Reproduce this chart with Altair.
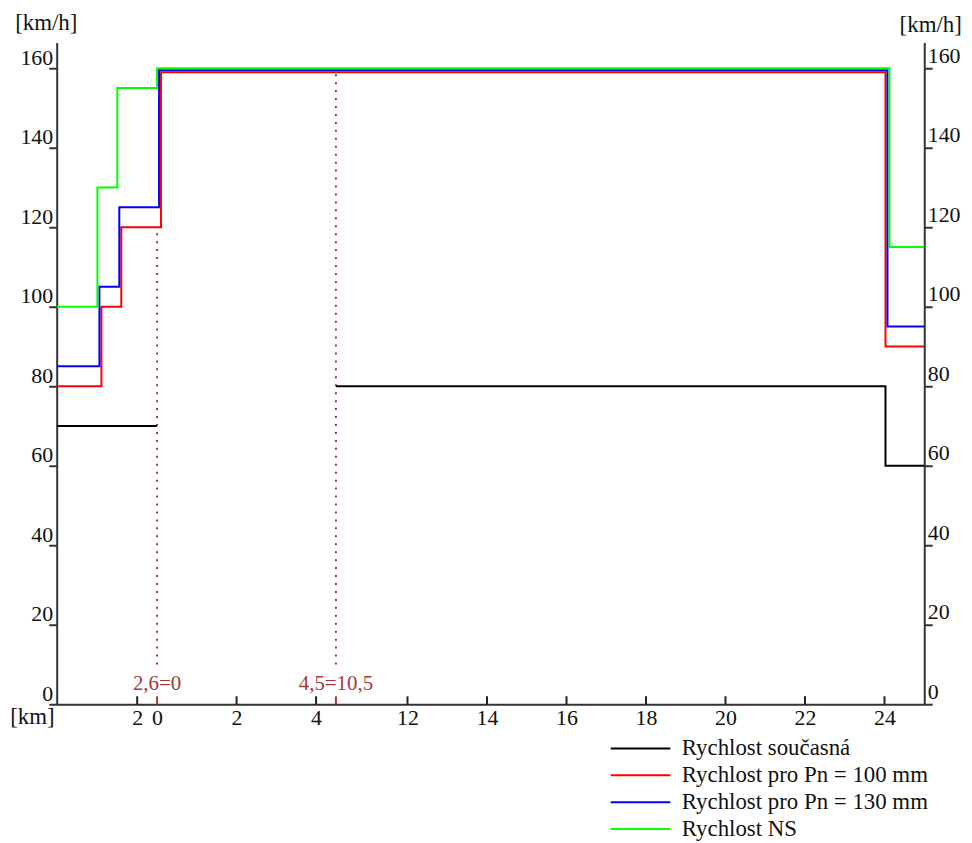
import altair as alt
import pandas as pd

# ---- data (positions along the broken chainage axis, km-equivalent units) ----
x_start = -2.525
x_end = 19.3

series = ["Rychlost současná", "Rychlost pro Pn = 100 mm",
          "Rychlost pro Pn = 130 mm", "Rychlost NS"]
colors = ["#000000", "#ff0000", "#0000ff", "#00ff00"]

cur_x1 = [-2.525, 0.0]
cur_v1 = [70, 70]
cur_x2 = [4.5, 18.325, 19.3]
cur_v2 = [80, 60, 60]

pn100_x = [-2.525, -1.4, -0.9, 0.1, 18.325, 19.3]
pn100_v = [80, 100, 120, 159, 90, 90]

pn130_x = [-2.525, -1.45, -0.95, 0.05, 18.375, 19.3]
pn130_v = [85, 105, 125, 159.5, 95, 95]

ns_x = [-2.525, -1.5, -1.0, 0.0, 18.425, 19.3]
ns_v = [100, 130, 155, 160, 115, 115]

tick_pos = [-0.5, 0, 2, 4, 6.3, 8.3, 10.3, 12.3, 14.3, 16.3, 18.3]
tick_labels = ["2", "0", "2", "4", "12", "14", "16", "18", "20", "22", "24"]
y_ticks = [0, 20, 40, 60, 80, 100, 120, 140, 160]

break_pos = [0.0, 4.5]
break_top = [120, 160]
break_labels = ["2,6=0", "4,5=10,5"]

FONT = "Liberation Serif"
FS = 22
BRK = "#a33a3a"

rows = []
def add(name, seg, xs, vs):
    for i, (a, b) in enumerate(zip(xs, vs)):
        rows.append({"series": name, "seg": seg, "x": a, "v": b, "i": i})

add(series[0], "a", cur_x1, cur_v1)
add(series[0], "b", cur_x2, cur_v2)
add(series[1], "a", pn100_x, pn100_v)
add(series[2], "a", pn130_x, pn130_v)
add(series[3], "a", ns_x, ns_v)
df = pd.DataFrame(rows)

ticks_df = pd.DataFrame({
    "x": tick_pos + break_pos,
    "kind": ["n"] * len(tick_pos) + ["b"] * len(break_pos),
})
ticks_df = ticks_df[~((ticks_df["kind"] == "n") & (ticks_df["x"] == 0))]
ticks_df["y0"] = 0
ticks_df["y1"] = 2

brk_df = pd.DataFrame({"x": break_pos, "top": break_top, "label": break_labels,
                       "bottom": [10, 10], "ty": [5, 5]})

xscale = alt.Scale(domain=[x_start, x_end], nice=False, zero=False)
yscale = alt.Scale(domain=[0, 166.5], nice=False, zero=False)

lab_arr = "[" + ",".join("'%s'" % t for t in tick_labels) + "]"
pos_arr = "[" + ",".join(repr(float(p)) for p in tick_pos) + "]"

xaxis = alt.Axis(values=tick_pos, labelExpr=f"{lab_arr}[indexof({pos_arr}, datum.value)]",
                 ticks=False, tickSize=0, labelPadding=3, grid=False,
                 title="[km]", titleX=-25, titleY=12, titleAlign="center",
                 titleBaseline="middle", titleFontWeight="normal",
                 domainColor="#333333", domainWidth=2, labelFlush=False)

yleft = alt.Axis(values=y_ticks, orient="left", tickSize=8, labelPadding=-4,
                 labelOffset=-11, grid=False, title="[km/h]", titleAngle=0,
                 titleX=-11, titleY=-20, titleAlign="center", titleBaseline="middle",
                 titleFontWeight="normal", domainColor="#333333", domainWidth=2,
                 tickColor="#333333", tickWidth=2)
yright = alt.Axis(values=y_ticks, orient="right", tickSize=8, labelPadding=-5,
                  labelOffset=-13, grid=False, title="[km/h]", titleAngle=0,
                  titleX=6, titleY=-18, titleAlign="center", titleBaseline="middle",
                  titleFontWeight="normal", domainColor="#333333", domainWidth=2,
                  tickColor="#333333", tickWidth=2, labelAlign="left")

lines = alt.Chart(df).mark_line(interpolate="step-after", strokeWidth=2).encode(
    x=alt.X("x:Q", scale=xscale, axis=xaxis),
    y=alt.Y("v:Q", scale=yscale, axis=yleft),
    color=alt.Color("series:N", scale=alt.Scale(domain=series, range=colors),
                    legend=alt.Legend(orient="none", legendX=576, legendY=699,
                                      title=None, symbolType="M-3,0H3", symbolSize=400,
                                      symbolStrokeWidth=2, labelFont=FONT,
                                      labelFontSize=23, labelOffset=30, padding=0,
                                      labelColor="#111111", rowPadding=3,
                                      labelLimit=500)),
    detail="seg:N",
    order="i:Q",
)

tick_marks = alt.Chart(ticks_df).mark_rule(strokeWidth=2).encode(
    x=alt.X("x:Q", scale=xscale, axis=xaxis),
    y=alt.Y("y0:Q", scale=yscale, axis=yright),
    y2="y1:Q",
    color=alt.Color("kind:N", scale=alt.Scale(domain=["n", "b"], range=["#222222", BRK]),
                    legend=None),
)

brk_rules = alt.Chart(brk_df).mark_rule(color=BRK, strokeWidth=2, strokeDash=[2, 6]).encode(
    x=alt.X("x:Q", scale=xscale, axis=xaxis),
    y=alt.Y("bottom:Q", scale=yscale, axis=None),
    y2="top:Q",
)

brk_text = alt.Chart(brk_df).mark_text(color=BRK, font=FONT, fontSize=21,
                                       baseline="middle", align="center").encode(
    x=alt.X("x:Q", scale=xscale, axis=xaxis),
    y=alt.Y("ty:Q", scale=yscale, axis=None),
    text="label:N",
)

chart = alt.layer(brk_rules, lines, tick_marks, brk_text).resolve_scale(
    y="independent", color="independent"
).properties(
    width=873, height=666,
    autosize=alt.AutoSizeParams(type="none"),
    padding={"left": 49, "top": 32, "right": 40, "bottom": 136},
).configure_view(stroke=None).configure_axis(
    labelFont=FONT, labelFontSize=FS, titleFont=FONT, titleFontSize=23,
    labelColor="#111111", titleColor="#111111",
)

chart.save("out.html", embed_options={"renderer": "svg", "actions": False})
